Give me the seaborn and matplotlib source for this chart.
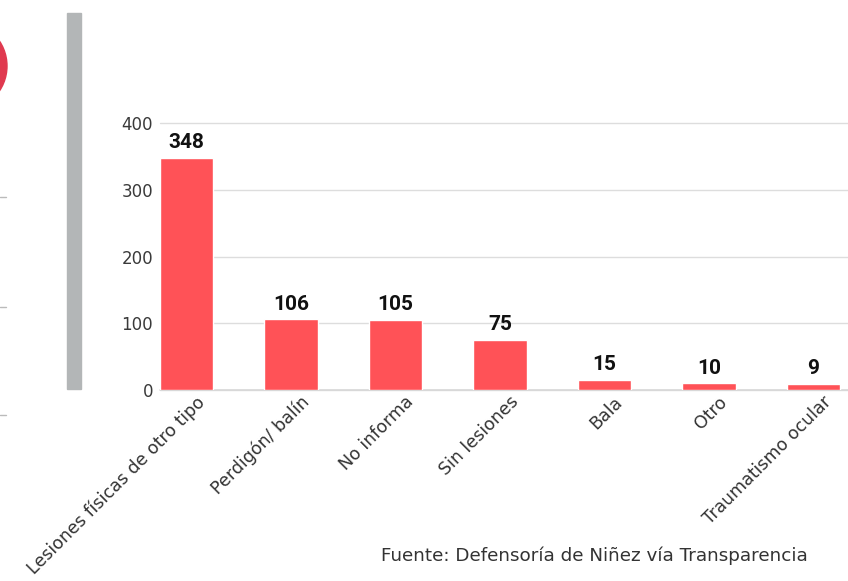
import matplotlib
matplotlib.use("Agg")
import matplotlib.pyplot as plt
import matplotlib.patches as mpatches
import matplotlib.transforms as mtransforms
import seaborn as sns
import pandas as pd

categories = ["Lesiones físicas de otro tipo", "Perdigón/ balín", "No informa",
              "Sin lesiones", "Bala", "Otro", "Traumatismo ocular"]
values = [348, 106, 105, 75, 15, 10, 9]
yticks = [0, 100, 200, 300, 400]
source = "Fuente: Defensoría de Niñez vía Transparencia"

sns.set_theme(style="white")
plt.rcParams['font.family'] = ['DejaVu Sans']

W, H = 848, 581
fig = plt.figure(figsize=(W / 100, H / 100), dpi=100)

# decorative elements from the original layout
fig.patches.append(mpatches.Ellipse((-38 / W, 1 - 66 / H), 90 / W, 90 / H,
                                    transform=fig.transFigure, color="#E0394F", zorder=0))
fig.patches.append(mpatches.Rectangle((67 / W, 1 - 389 / H), 14 / W, 376 / H,
                                      transform=fig.transFigure, color="#B3B6B7", zorder=0))
for yy in [197, 307, 415]:
    fig.lines.append(plt.Line2D([0, 6 / W], [1 - yy / H, 1 - yy / H],
                                transform=fig.transFigure, color="#BBBBBB", lw=1))

ax = fig.add_axes([160 / W, 1 - 390 / H, (W - 160) / W, (390 - 123) / H])

df = pd.DataFrame({"cat": categories, "val": values})
sns.barplot(data=df, x="cat", y="val", color="#FF5257", width=0.51,
            saturation=1, ax=ax, zorder=3)

ax.set_xlim(-0.255, 6.33)
ax.set_ylim(0, 400)
ax.set_yticks(yticks)
ax.set_yticklabels([str(t) for t in yticks], fontsize=12, color="#3a3a3a")
ax.grid(axis="y", color="#DDDDDD", lw=1, zorder=0)
for sp in ax.spines.values():
    sp.set_visible(False)
ax.axhline(0, color="#D8D8D8", lw=1.2, zorder=2, clip_on=False)
for gl in ax.get_ygridlines():
    gl.set_clip_on(False)
ax.tick_params(axis="y", length=0, pad=5)
ax.tick_params(axis="x", length=0, pad=2)
ax.set_xlabel("")
ax.set_ylabel("")

for i, v in enumerate(values):
    ax.annotate(str(v), (i, v), xytext=(0, 4), textcoords="offset points",
                ha="center", va="bottom", fontsize=15, fontweight="bold",
                family=["Roboto", "DejaVu Sans"], color="#111111")

offset = mtransforms.ScaledTranslation(9 / 100, 0, fig.dpi_scale_trans)
ax.set_xticks(range(len(categories)))
ax.set_xticklabels(categories, rotation=45, ha="right", rotation_mode="anchor",
                   fontsize=12.5, color="#333333")
for lbl in ax.get_xticklabels():
    lbl.set_transform(lbl.get_transform() + offset)

fig.text(594 / W, 1 - 556 / H, source, ha="center", va="center",
         fontsize=13.2, color="#333333")

fig.savefig("out.png", dpi=100)
